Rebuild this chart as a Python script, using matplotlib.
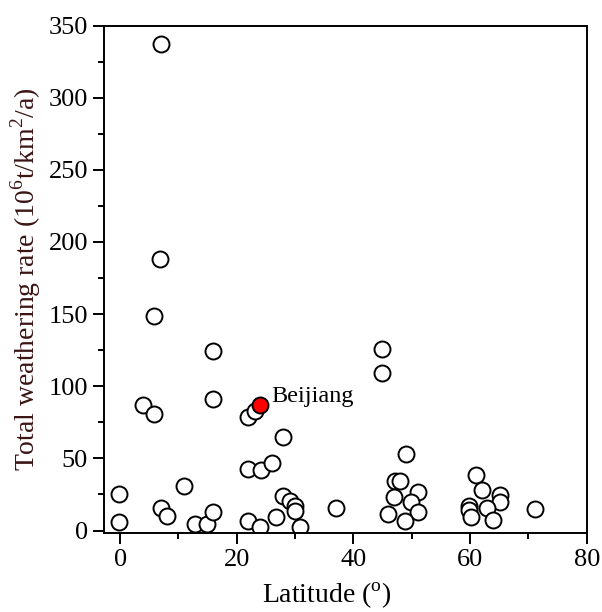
"""
Total weathering rate vs. latitude scatter, Beijiang highlighted.
"""
import matplotlib.pyplot as plt

plt.rcParams['font.family'] = ['Liberation Serif', 'DejaVu Serif']
plt.rcParams['mathtext.fontset'] = 'custom'
plt.rcParams['mathtext.rm'] = 'Liberation Serif'

# 세계 하천 자료 (latitude, total weathering rate)
lat = [7.0, 6.9, 5.8, 15.9, 15.9, 4.0, 5.9, 22.0, 23.2, 28.0,
       22.0, 24.1, 26.0, 28.0, 29.1, 30.0, 30.0, 26.7, 21.9, 24.0,
       30.9, -0.1, -0.1, 7.0, 8.0, 10.9, 12.9, 14.9, 15.9, 37.0,
       44.9, 44.9, 49.0, 47.1, 48.0, 51.0, 47.0, 49.8, 51.0, 46.0,
       48.9, 61.0, 62.1, 65.1, 65.1, 62.9, 59.8, 59.9, 60.1, 63.9,
       71.1]
rate = [337.5, 188, 149, 124.5, 91, 87, 81, 79, 83, 64.5,
        42.5, 42, 46.5, 24, 20.5, 17, 13.5, 9.5, 6.5, 2.2,
        2.4, 25, 6, 15.5, 10, 31, 4.4, 4.4, 13, 15.3,
        126, 109, 53, 34, 34.5, 27, 23, 20, 13, 11.5,
        6.3, 38.5, 28.3, 24.5, 20, 15.8, 16.7, 14.4, 9.7, 7.2,
        15.2]

bj_lat = [24.0]
bj_rate = [86.7]


def main():
    fig = plt.figure(figsize=(6.02, 6.12), dpi=100)
    ax = fig.add_axes([0.1728, 0.1296, 0.8018, 0.8287])

    ax.plot(lat, rate, 'o', ms=11.5, mfc='white', mec='black', mew=1.4, ls='none')
    ax.plot(bj_lat, bj_rate, 'o', ms=11.5, mfc='#ff0000', mec='black', mew=1.4, ls='none')
    ax.text(25.9, 93, 'Beijiang', fontsize=17.5, va='center', ha='left')

    ax.set_xlim(-2.75, 80)
    ax.set_ylim(-1.5, 350)
    ax.set_xticks([0, 20, 40, 60, 80])
    ax.set_xticks([10, 30, 50, 70], minor=True)
    ax.set_yticks(range(0, 351, 50))
    ax.set_yticks(range(25, 350, 50), minor=True)

    ax.tick_params(which='both', direction='out', width=1.4, labelsize=19,
                   top=False, right=False, colors='black')
    ax.tick_params(which='major', length=8, pad=3.5)
    ax.tick_params(which='minor', length=4.5)
    for sp in ax.spines.values():
        sp.set_linewidth(1.4)

    ax.set_xlabel('Latitude ($^{\\mathrm{o}}$)', fontsize=20)
    ax.xaxis.set_label_coords(0.462, -0.095)
    ax.set_ylabel('Total weathering rate (10$^{\\mathrm{6}}$t/km$^{\\mathrm{2}}$/a)',
                  fontsize=20, color='#3b1414', labelpad=4)

    fig.savefig('out.png', dpi=100)
    plt.close(fig)


if __name__ == '__main__':
    main()
